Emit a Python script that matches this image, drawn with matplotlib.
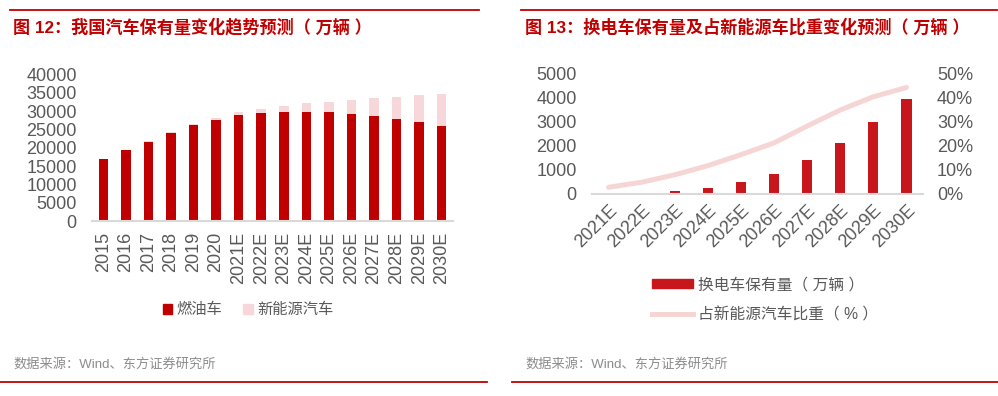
import matplotlib
matplotlib.use("Agg")
import matplotlib.pyplot as plt
from matplotlib.patches import Patch
from matplotlib.lines import Line2D

plt.rcParams['font.family'] = ['Liberation Sans', 'Noto Sans CJK SC', 'DejaVu Sans']

# 图12 数据（万辆）
years = ["2015", "2016", "2017", "2018", "2019", "2020", "2021E", "2022E", "2023E",
         "2024E", "2025E", "2026E", "2027E", "2028E", "2029E", "2030E"]
fuel = [16900, 19400, 21700, 24000, 26150, 27600, 28850, 29500, 29870,
        29870, 29670, 29230, 28580, 27860, 26940, 25840]
nev = [40, 90, 150, 260, 380, 490, 930, 1200, 1630,
       2380, 2930, 3920, 5020, 6120, 7500, 8960]

# 图13 数据
years2 = ["2021E", "2022E", "2023E", "2024E", "2025E", "2026E", "2027E", "2028E", "2029E", "2030E"]
swap = [10, 50, 120, 260, 490, 850, 1400, 2140, 3000, 3950]
share = [2.8, 4.9, 8.0, 11.8, 16.4, 21.3, 28.3, 35.0, 40.5, 44.4]

W, H = 998, 396
RED = "#C00000"
PINK = "#F8D7DA"
GRAY = "#595959"

fig = plt.figure(figsize=(W / 100, H / 100), dpi=100)


def box(x0, x1, ytop, ybot):
    return [x0 / W, 1 - ybot / H, (x1 - x0) / W, (ybot - ytop) / H]


def fx(x):
    return x / W


def fy(y):
    return 1 - y / H


# 红色分隔线
for (xa, xb, y) in [(10, 479, 10), (521, 997, 10), (0, 487, 382), (512, 998, 382)]:
    fig.add_artist(Line2D([fx(xa), fx(xb)], [fy(y), fy(y)], color=RED, lw=1.3))

fig.text(fx(13), fy(27), "图 12：我国汽车保有量变化趋势预测（ 万辆 ）", color=RED,
         fontsize=12.3, fontweight="bold", va="center")
fig.text(fx(525), fy(27), "图 13：换电车保有量及占新能源车比重变化预测（ 万辆 ）", color=RED,
         fontsize=12.3, fontweight="bold", va="center")
fig.text(fx(13), fy(364), "数据来源：Wind、东方证券研究所", color="#8C8C8C", fontsize=9.5, va="center")
fig.text(fx(525), fy(364), "数据来源：Wind、东方证券研究所", color="#8C8C8C", fontsize=9.5, va="center")

# ---- 左图
ax = fig.add_axes(box(92, 453, 74.5, 221))
x = range(len(years))
ax.bar(x, fuel, width=0.42, color=RED)
ax.bar(x, nev, width=0.42, bottom=fuel, color=PINK)
ax.set_xlim(-0.5, len(years) - 0.5)
ax.set_ylim(0, 40000)
ax.set_yticks(range(0, 40001, 5000))
ax.set_xticks(list(x))
ax.set_xticklabels(years, rotation=90)
for s in ["top", "right", "left"]:
    ax.spines[s].set_visible(False)
ax.spines["bottom"].set_color("#D9D9D9")
ax.spines["bottom"].set_linewidth(1.5)
ax.tick_params(axis="y", length=0, pad=11, labelsize=13, labelcolor=GRAY)
ax.tick_params(axis="x", length=0, pad=8, labelsize=13, labelcolor=GRAY)

fig.legend(handles=[Patch(color=RED, label="燃油车"), Patch(color=PINK, label="新能源汽车")],
           loc="center", bbox_to_anchor=(fx(248), fy(310)), ncol=2, frameon=False,
           fontsize=11, handlelength=0.6, handleheight=0.6, handletextpad=0.3,
           columnspacing=1.4, labelcolor=GRAY)

# ---- 右图
ax2 = fig.add_axes(box(592, 923, 74, 194))
x2 = range(len(years2))
ax2.bar(x2, swap, width=0.31, color="#C8161D")
ax2.set_xlim(-0.5, len(years2) - 0.5)
ax2.set_ylim(0, 5000)
ax2.set_yticks(range(0, 5001, 1000))
ax2.set_xticks(list(x2))
ax2.set_xticklabels(years2, rotation=45, ha="right", rotation_mode="anchor")
for s in ["top", "right", "left"]:
    ax2.spines[s].set_visible(False)
ax2.spines["bottom"].set_color("#D9D9D9")
ax2.spines["bottom"].set_linewidth(1.5)
ax2.tick_params(axis="y", length=0, pad=11, labelsize=13, labelcolor=GRAY)
ax2.tick_params(axis="x", length=0, pad=6, labelsize=13, labelcolor=GRAY)

ax3 = ax2.twinx()
ax3.plot(list(x2), share, color="#F6D5D5", lw=3.6, solid_capstyle="round", solid_joinstyle="round")
ax3.set_ylim(0, 50)
ax3.set_yticks(range(0, 51, 10))
ax3.set_yticklabels([f"{v}%" for v in range(0, 51, 10)])
for s in ["top", "right", "left", "bottom"]:
    ax3.spines[s].set_visible(False)
ax3.tick_params(axis="y", length=0, pad=10, labelsize=13, labelcolor=GRAY)

fig.legend(handles=[Patch(color="#C8161D", label="换电车保有量（ 万辆 ）"),
                    Line2D([], [], color="#F6D5D5", lw=3.6, label="占新能源汽车比重（ % ）")],
           loc="upper left", bbox_to_anchor=(fx(638), fy(263)), ncol=1, frameon=False,
           fontsize=11.3, handlelength=2.6, handleheight=0.5, handletextpad=0.35,
           labelspacing=0.95, labelcolor=GRAY)

fig.savefig("out.png", dpi=100)
